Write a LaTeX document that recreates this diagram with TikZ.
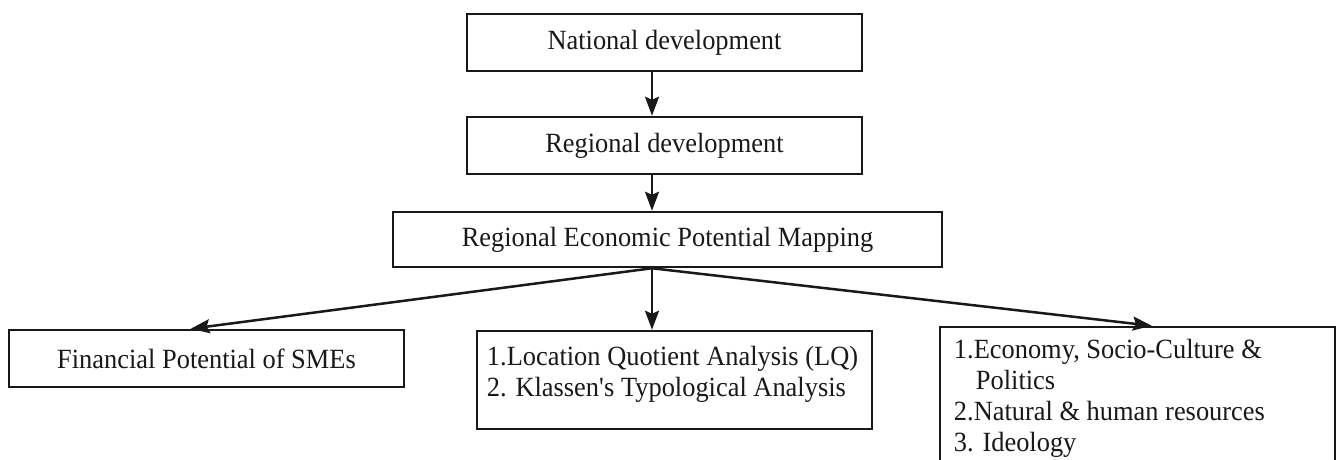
\documentclass[tikz,border=0pt]{standalone}
\usepackage{fontspec}
\setmainfont{Liberation Serif}[FakeStretch=0.95]
\usetikzlibrary{arrows.meta,calc}
\tikzset{
  box/.style={draw=black!90, line width=2.5pt, rectangle, inner sep=0pt, text=black!90, font=\fontsize{27.8}{31}\selectfont},
  boxtext/.style={inner sep=0pt, align=left, anchor=north west, text=black!90, font=\fontsize{27.8}{31}\selectfont},
  arr/.style={draw=black!90, line width=2.5pt, -{Stealth[length=19pt,width=14pt,inset=3pt]}}
}
\begin{document}
\begin{tikzpicture}[x=1pt,y=-1pt]
\useasboundingbox (0,0) rectangle (1336,459);
\clip (0,0) rectangle (1336,459);
\fill[white] (0,0) rectangle (1336,459);
\coordinate (ax) at (652,0);
\node[box, minimum width=395pt, minimum height=57pt] (nat) at (664.5,42.5) {National development};
\node[box, minimum width=395pt, minimum height=57pt] (reg) at (664.5,145.5) {Regional development};
\node[box, minimum width=549pt, minimum height=55pt] (map) at (667.5,239.5) {Regional Economic Potential Mapping};
\node[box, minimum width=395pt, minimum height=57pt] (fin) at (206.5,358.5) {Financial Potential of SMEs};
\node[box, minimum width=395pt, minimum height=98pt] (mid) at (674.5,380) {};
\node[boxtext] (midtext) at ($(mid.north west)+(11,0)$) {\rule{0pt}{36pt}1.Location Quotient Analysis (LQ)\\2. Klassen\textquotesingle s Typological Analysis};
\node[box, minimum width=395pt, minimum height=160pt] (rgt) at (1137.5,407) {};
\node[boxtext] (rgttext) at ($(rgt.north west)+(15,0)$) {\rule{0pt}{33pt}1.Economy, Socio-Culture \&\\\hspace*{22pt}Politics\\2.Natural \& human resources\\3. Ideology};
\draw[arr] (nat.south -| ax) -- (reg.north -| ax);
\draw[arr] (reg.south -| ax) -- (map.north -| ax);
\draw[arr] (map.south -| ax) -- ($(fin.north west)+(183,0)$);
\draw[arr] (map.south -| ax) -- (mid.north -| ax);
\draw[arr] (map.south -| ax) -- ($(rgt.north west)+(213,0)$);
\end{tikzpicture}
\end{document}
